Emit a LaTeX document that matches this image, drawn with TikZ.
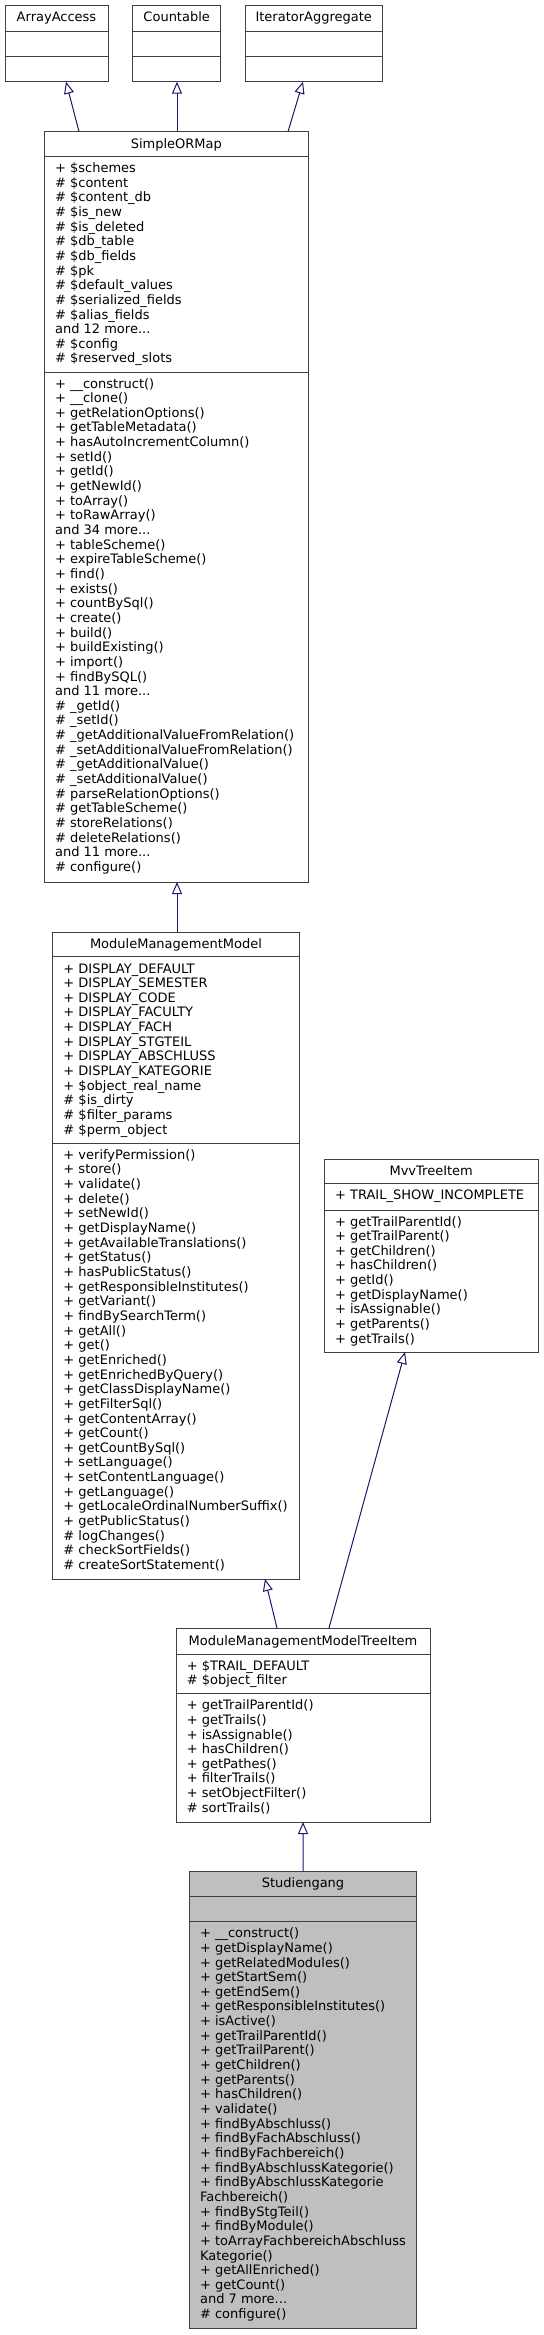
\documentclass[tikz,border=0pt]{standalone}
\usepackage{fontspec}
\setmainfont{DejaVu Sans}
\usetikzlibrary{arrows.meta,calc}
\definecolor{edgeblue}{HTML}{191970}
\definecolor{bord}{HTML}{404040}
\definecolor{mainfill}{HTML}{BFBFBF}
\newcommand\tdots{...}
\newcommand\clines[4]{\foreach \t [count=\i from 0] in {#4}{\node[txt,name=#1\i] at (#2,{#3+\i*14.65}) {\t};}}
\newcommand\umlbox[6]{\node[cls,#6,minimum width={(#4-#2)*0.75pt},minimum height={(#5-#3)*0.75pt},anchor=north west] (#1) at (#2,#3) {};}
\begin{document}
\begin{tikzpicture}[x=0.75pt,y=-0.75pt,
  cls/.style={draw=bord,line width=0.75pt,fill=white,inner sep=0pt,outer sep=0pt},
  div/.style={draw=bord,line width=0.75pt},
  txt/.style={anchor=base west,inner sep=0pt,font=\fontsize{9.75pt}{11pt}\selectfont},
  ttl/.style={anchor=base,inner sep=0pt,font=\fontsize{9.75pt}{11pt}\selectfont},
  inh/.style={draw=edgeblue,line width=0.75pt,-{Triangle[fill=white,length=9pt,width=7.5pt]}}]
\useasboundingbox[fill=white] (0,0) rectangle (543,2335);

% interfaces
\umlbox{aa}{5}{5}{108}{81.7}{}
\draw[div] (5,31.7) -- (108,31.7); \draw[div] (5,56.7) -- (108,56.7);
\node[ttl] (aaT) at (56.5,21.7) {ArrayAccess};
\umlbox{cnt}{132.7}{5}{220.7}{81.7}{}
\draw[div] (132.7,31.7) -- (220.7,31.7); \draw[div] (132.7,56.7) -- (220.7,56.7);
\node[ttl] (cntT) at (176.7,21.7) {Countable};
\umlbox{ia}{245}{5}{382.5}{81.7}{}
\draw[div] (245,31.7) -- (382.5,31.7); \draw[div] (245,56.7) -- (382.5,56.7);
\node[ttl] (iaT) at (313.75,21.7) {IteratorAggregate};

% SimpleORMap
\umlbox{sorm}{44.3}{131.7}{308.3}{882}{}
\draw[div] (44.3,156.7) -- (308.3,156.7); \draw[div] (44.3,372) -- (308.3,372);
\node[ttl] (sormT) at (176.3,148) {SimpleORMap};
\clines{sa}{54.8}{172.5}{+ \$schemes, \# \$content, \# \$content\_db, \# \$is\_new, \# \$is\_deleted, \# \$db\_table, \# \$db\_fields, \# \$pk, \# \$default\_values, \# \$serialized\_fields, \# \$alias\_fields, and 12 more\tdots, \# \$config, \# \$reserved\_slots}
\clines{sm}{54.8}{388}{+ \_\_construct(), + \_\_clone(), + getRelationOptions(), + getTableMetadata(), + hasAutoIncrementColumn(), + setId(), + getId(), + getNewId(), + toArray(), + toRawArray(), and 34 more\tdots, + tableScheme(), + expireTableScheme(), + find(), + exists(), + countBySql(), + create(), + build(), + buildExisting(), + import(), + findBySQL(), and 11 more\tdots, \# \_getId(), \# \_setId(), \# \_getAdditionalValueFromRelation(), \# \_setAdditionalValueFromRelation(), \# \_getAdditionalValue(), \# \_setAdditionalValue(), \# parseRelationOptions(), \# getTableScheme(), \# storeRelations(), \# deleteRelations(), and 11 more\tdots, \# configure()}

% ModuleManagementModel
\umlbox{mmm}{52.7}{932}{299.3}{1579}{}
\draw[div] (52.7,956.7) -- (299.3,956.7); \draw[div] (52.7,1143.3) -- (299.3,1143.3);
\node[ttl] (mmmT) at (176,948.5) {ModuleManagementModel};
\clines{ma}{63.2}{973}{+ DISPLAY\_DEFAULT, + DISPLAY\_SEMESTER, + DISPLAY\_CODE, + DISPLAY\_FACULTY, + DISPLAY\_FACH, + DISPLAY\_STGTEIL, + DISPLAY\_ABSCHLUSS, + DISPLAY\_KATEGORIE, + \$object\_real\_name, \# \$is\_dirty, \# \$filter\_params, \# \$perm\_object}
\clines{mm}{63.2}{1159.3}{+ verifyPermission(), + store(), + validate(), + delete(), + setNewId(), + getDisplayName(), + getAvailableTranslations(), + getStatus(), + hasPublicStatus(), + getResponsibleInstitutes(), + getVariant(), + findBySearchTerm(), + getAll(), + get(), + getEnriched(), + getEnrichedByQuery(), + getClassDisplayName(), + getFilterSql(), + getContentArray(), + getCount(), + getCountBySql(), + setLanguage(), + setContentLanguage(), + getLanguage(), + getLocaleOrdinalNumberSuffix(), + getPublicStatus(), \# logChanges(), \# checkSortFields(), \# createSortStatement()}

% MvvTreeItem
\umlbox{mvv}{324.3}{1159}{538}{1352}{}
\draw[div] (324.3,1183.3) -- (538,1183.3); \draw[div] (324.3,1210) -- (538,1210);
\node[ttl] (mvvT) at (431.2,1175.5) {MvvTreeItem};
\clines{va}{334.8}{1199.5}{+ TRAIL\_SHOW\_INCOMPLETE}
\clines{vm}{334.8}{1226}{+ getTrailParentId(), + getTrailParent(), + getChildren(), + hasChildren(), + getId(), + getDisplayName(), + isAssignable(), + getParents(), + getTrails()}

% ModuleManagementModelTreeItem
\umlbox{mti}{176}{1628}{430}{1822}{}
\draw[div] (176,1654.3) -- (430,1654.3); \draw[div] (176,1693.7) -- (430,1693.7);
\node[ttl] (mtiT) at (303,1645) {ModuleManagementModelTreeItem};
\clines{ta}{186.5}{1670}{+ \$TRAIL\_DEFAULT, \# \$object\_filter}
\clines{tm}{186.5}{1709.7}{+ getTrailParentId(), + getTrails(), + isAssignable(), + hasChildren(), + getPathes(), + filterTrails(), + setObjectFilter(), \# sortTrails()}

% Studiengang
\umlbox{stud}{189.3}{1871}{416.7}{2328.3}{fill=mainfill}
\draw[div] (189.3,1896.7) -- (416.7,1896.7); \draw[div] (189.3,1921.7) -- (416.7,1921.7);
\node[ttl] (studT) at (303,1887.3) {Studiengang};
\clines{gm}{199.8}{1937.7}{+ \_\_construct(), + getDisplayName(), + getRelatedModules(), + getStartSem(), + getEndSem(), + getResponsibleInstitutes(), + isActive(), + getTrailParentId(), + getTrailParent(), + getChildren(), + getParents(), + hasChildren(), + validate(), + findByAbschluss(), + findByFachAbschluss(), + findByFachbereich(), + findByAbschlussKategorie(), + findByAbschlussKategorie, Fachbereich(), + findByStgTeil(), + findByModule(), + toArrayFachbereichAbschluss, Kategorie(), + getAllEnriched(), + getCount(), and 7 more\tdots, \# configure()}

% inheritance connectors
\draw[inh] ($(sorm.north west)+(34.7,0)$) -- ($(aa.south west)+(61,0)$);
\draw[inh] ($(sorm.north west)+(132.7,0)$) -- ($(cnt.south west)+(44.3,0)$);
\draw[inh] ($(sorm.north west)+(243.7,0)$) -- ($(ia.south west)+(58,0)$);
\draw[inh] ($(mmm.north west)+(124.3,0)$) -- ($(sorm.south west)+(132.7,0)$);
\draw[inh] ($(mti.north west)+(101,0)$) -- ($(mmm.south west)+(212.3,0)$);
\draw[inh] ($(mti.north west)+(153,0)$) -- ($(mvv.south west)+(80.7,0)$);
\draw[inh] ($(stud.north west)+(113.7,0)$) -- ($(mti.south west)+(127,0)$);
\end{tikzpicture}
\end{document}
